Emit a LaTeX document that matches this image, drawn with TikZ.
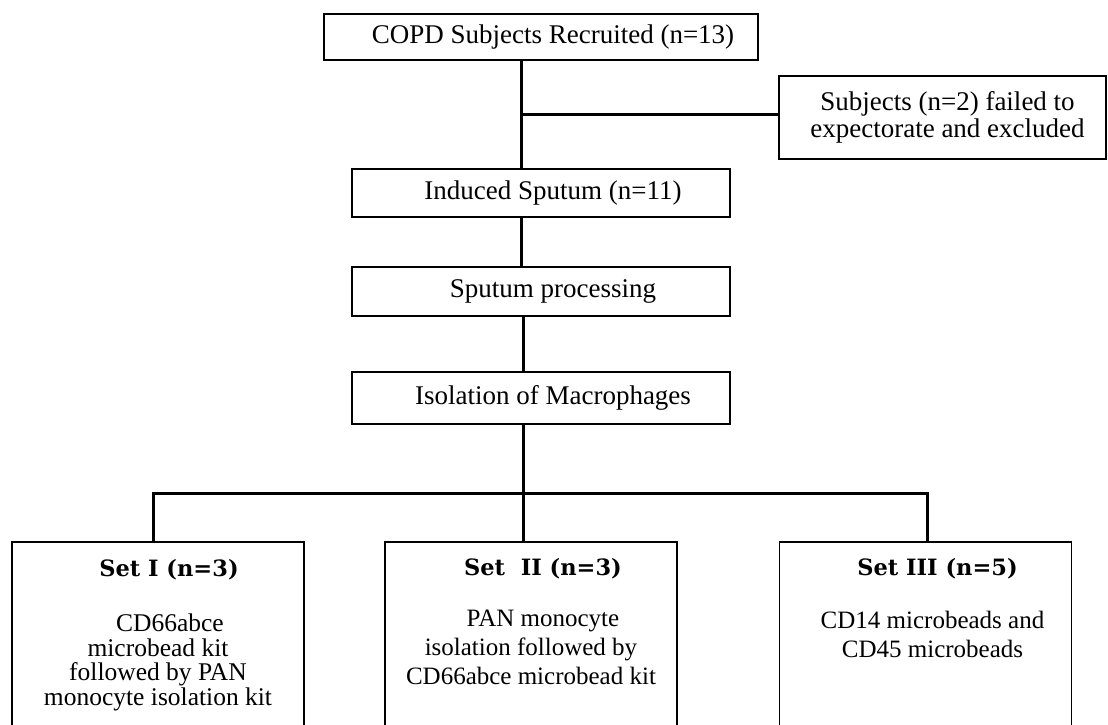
\documentclass[tikz,border=0pt]{standalone}
\usepackage{fontspec}
\setmainfont{Liberation Serif}
\newfontfamily\headfont{DejaVu Serif}
\newcommand\tightlines{\lineskiplimit=-30pt\relax}

\tikzset{Box/.style={draw,black,line width=1.3pt,inner sep=0pt,outer sep=0pt,rectangle,align=center}}
\tikzset{Stage/.style={Box,minimum width=378pt,font=\fontsize{27}{30}\selectfont}}
\tikzset{Group/.style={Box,minimum width=292pt,minimum height=228pt}}
\tikzset{Head/.style={anchor=base,inner sep=0pt,font=\headfont\bfseries\fontsize{22.5}{26}\selectfont}}
\tikzset{Body/.style={anchor=north,align=center,inner sep=0pt,font=\fontsize{25}{29}\selectfont\tightlines}}
\tikzset{Link/.style={draw,black,line width=3pt}}

\begin{document}
\begin{tikzpicture}[x=1pt,y=-1pt]

\useasboundingbox (0,0) rectangle (1108,724);
\clip (0,0) rectangle (1108,724);

\node[Stage,minimum width=434pt,minimum height=46pt] (copd) at (541,37) {\hspace*{24pt}COPD Subjects Recruited (n=13)};
\node[Box,line width=2pt,minimum width=327pt,minimum height=83pt,font=\fontsize{27}{27}\selectfont] (excl) at (942.5,117.5) {\hspace*{10pt}Subjects (n=2) failed to\\\hspace*{10pt}expectorate and excluded};
\node[Stage,minimum height=48pt] (induced) at (541,193) {\hspace*{24pt}Induced Sputum (n=11)};
\node[Stage,minimum height=49pt] (sputum) at (541,291.5) {\hspace*{24pt}Sputum processing};
\node[Stage,minimum height=52pt] (isol) at (541,398) {\hspace*{24pt}Isolation of Macrophages};

\node[Group] (setI) at (158,656) {};
\node[Group] (setII) at (531,656) {};
\node[Group] (setIII) at (925.5,656) {};

\node[Head,at=(setI.north),yshift=-34pt,xshift=11pt] (headI) {Set I (n=3)};
\node[Head,at=(setII.north),yshift=-33pt,xshift=12pt] (headII) {Set\ \ II (n=3)};
\node[Head,at=(setIII.north),yshift=-33pt,xshift=12pt] (headIII) {Set III (n=5)};

\node[Body,at=(setI.north),yshift=-72pt,font=\fontsize{25.5}{24.5}\selectfont\tightlines] (bodyI) {\hspace*{24pt}CD66abce\\microbead kit\\followed by PAN\\monocyte isolation kit};
\node[Body,at=(setII.north),yshift=-68pt] (bodyII) {\hspace*{24pt}PAN monocyte\\isolation followed by\\CD66abce microbead kit};
\node[Body,at=(setIII.north),yshift=-69pt,xshift=7pt] (bodyIII) {CD14 microbeads and\\CD45 microbeads};

\coordinate (split) at (521,114);
\coordinate (bus) at (523,493);

\draw[Link] ([xshift=-20pt]copd.south) -- ([xshift=-20pt]induced.north);
\draw[Link] (split) -- (split -| excl.west);
\draw[Link] ([xshift=-20pt]induced.south) -- ([xshift=-20pt]sputum.north);
\draw[Link] ([xshift=-18pt]sputum.south) -- ([xshift=-18pt]isol.north);
\draw[Link] ([xshift=-18pt]isol.south) -- (bus);
\draw[Link] ([xshift=-5pt]setI.north) |- (bus) -| ([xshift=2pt]setIII.north);
\draw[Link] (bus) -- (bus |- setII.north);

\end{tikzpicture}
\end{document}
